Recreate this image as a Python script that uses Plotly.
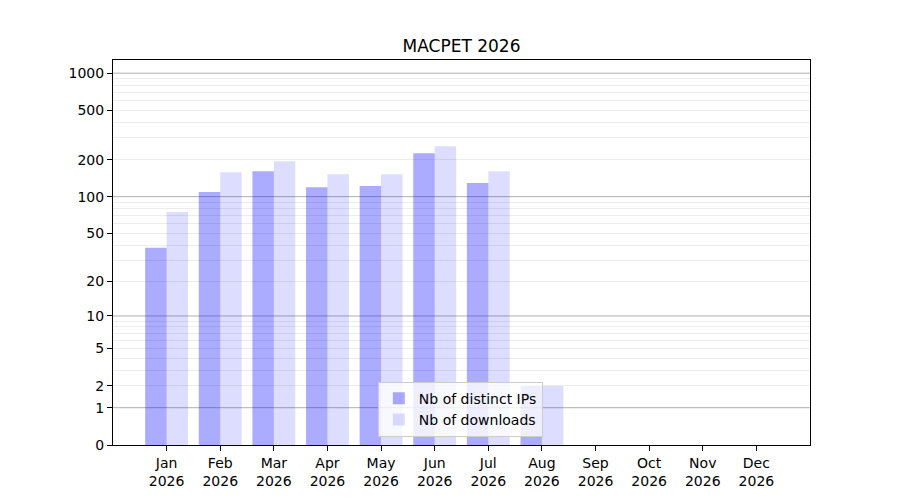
import plotly.graph_objects as go

# --- Données ---
mois = ["Jan", "Feb", "Mar", "Apr", "May", "Jun", "Jul", "Aug", "Sep", "Oct", "Nov", "Dec"]
annee = "2026"
nb_ips = [38, 109, 161, 119, 122, 225, 129, 2, 0, 0, 0, 0]
nb_downloads = [75, 158, 194, 152, 152, 257, 161, 2, 0, 0, 0, 0]

tick_labels = [0, 1, 2, 5, 10, 20, 50, 100, 200, 500, 1000]
decades = [1, 10, 100, 1000]

# échelle log(1 + x) : on décale tout de 1 sur un axe log
categories = [f"{m}<br>{annee}" for m in mois]
minor_vals = [1 + k * 10 ** n for n in range(0, 4) for k in range(2, 10)]

fig = go.Figure()

fig.add_trace(go.Bar(
    x=categories, y=nb_ips, base=1,
    name="Nb of distinct IPs",
    marker=dict(color="rgba(0,0,255,0.33)", line_width=0),
))
fig.add_trace(go.Bar(
    x=categories, y=nb_downloads, base=1,
    name="Nb of downloads",
    marker=dict(color="rgba(0,0,255,0.135)", line_width=0),
))

# grille principale (décades)
for d in decades:
    fig.add_hline(y=1 + d, line_color="#b0b0b0", line_width=1, layer="below")

# la page html a une marge de 8 px autour du graphique -> on compense
fig.update_layout(
    width=900, height=500,
    paper_bgcolor="white", plot_bgcolor="white",
    margin=dict(l=105, r=98, t=52, b=63),
    font=dict(family="DejaVu Sans", size=14, color="black"),
    title=dict(text="MACPET 2026", x=0.5, xref="paper", xanchor="center",
               y=1 - 38 / 500, yref="container", yanchor="middle",
               font=dict(size=17)),
    barmode="group", bargap=0.2, bargroupgap=0,
    showlegend=True,
    legend=dict(x=0.380, y=0.0215, xanchor="left", yanchor="bottom",
                bgcolor="rgba(255,255,255,0.8)", bordercolor="#cccccc", borderwidth=1,
                font=dict(size=14), itemsizing="constant"),
)

fig.update_xaxes(
    range=[-1, 12], showgrid=False, zeroline=False,
    showline=True, linecolor="black", linewidth=1, mirror=True,
    ticks="outside", ticklen=5, tickcolor="black",
)

fig.update_yaxes(
    type="log", range=[0, 3.107],
    tickvals=[1 + t for t in tick_labels], ticktext=[str(t) for t in tick_labels],
    showgrid=False, zeroline=False,
    showline=True, linecolor="black", linewidth=1, mirror=True,
    ticks="outside", ticklen=5, tickcolor="black",
    minor=dict(tickvals=minor_vals, showgrid=True, gridcolor="#ececec", gridwidth=1, ticks=""),
)

fig.write_html("out.html")
